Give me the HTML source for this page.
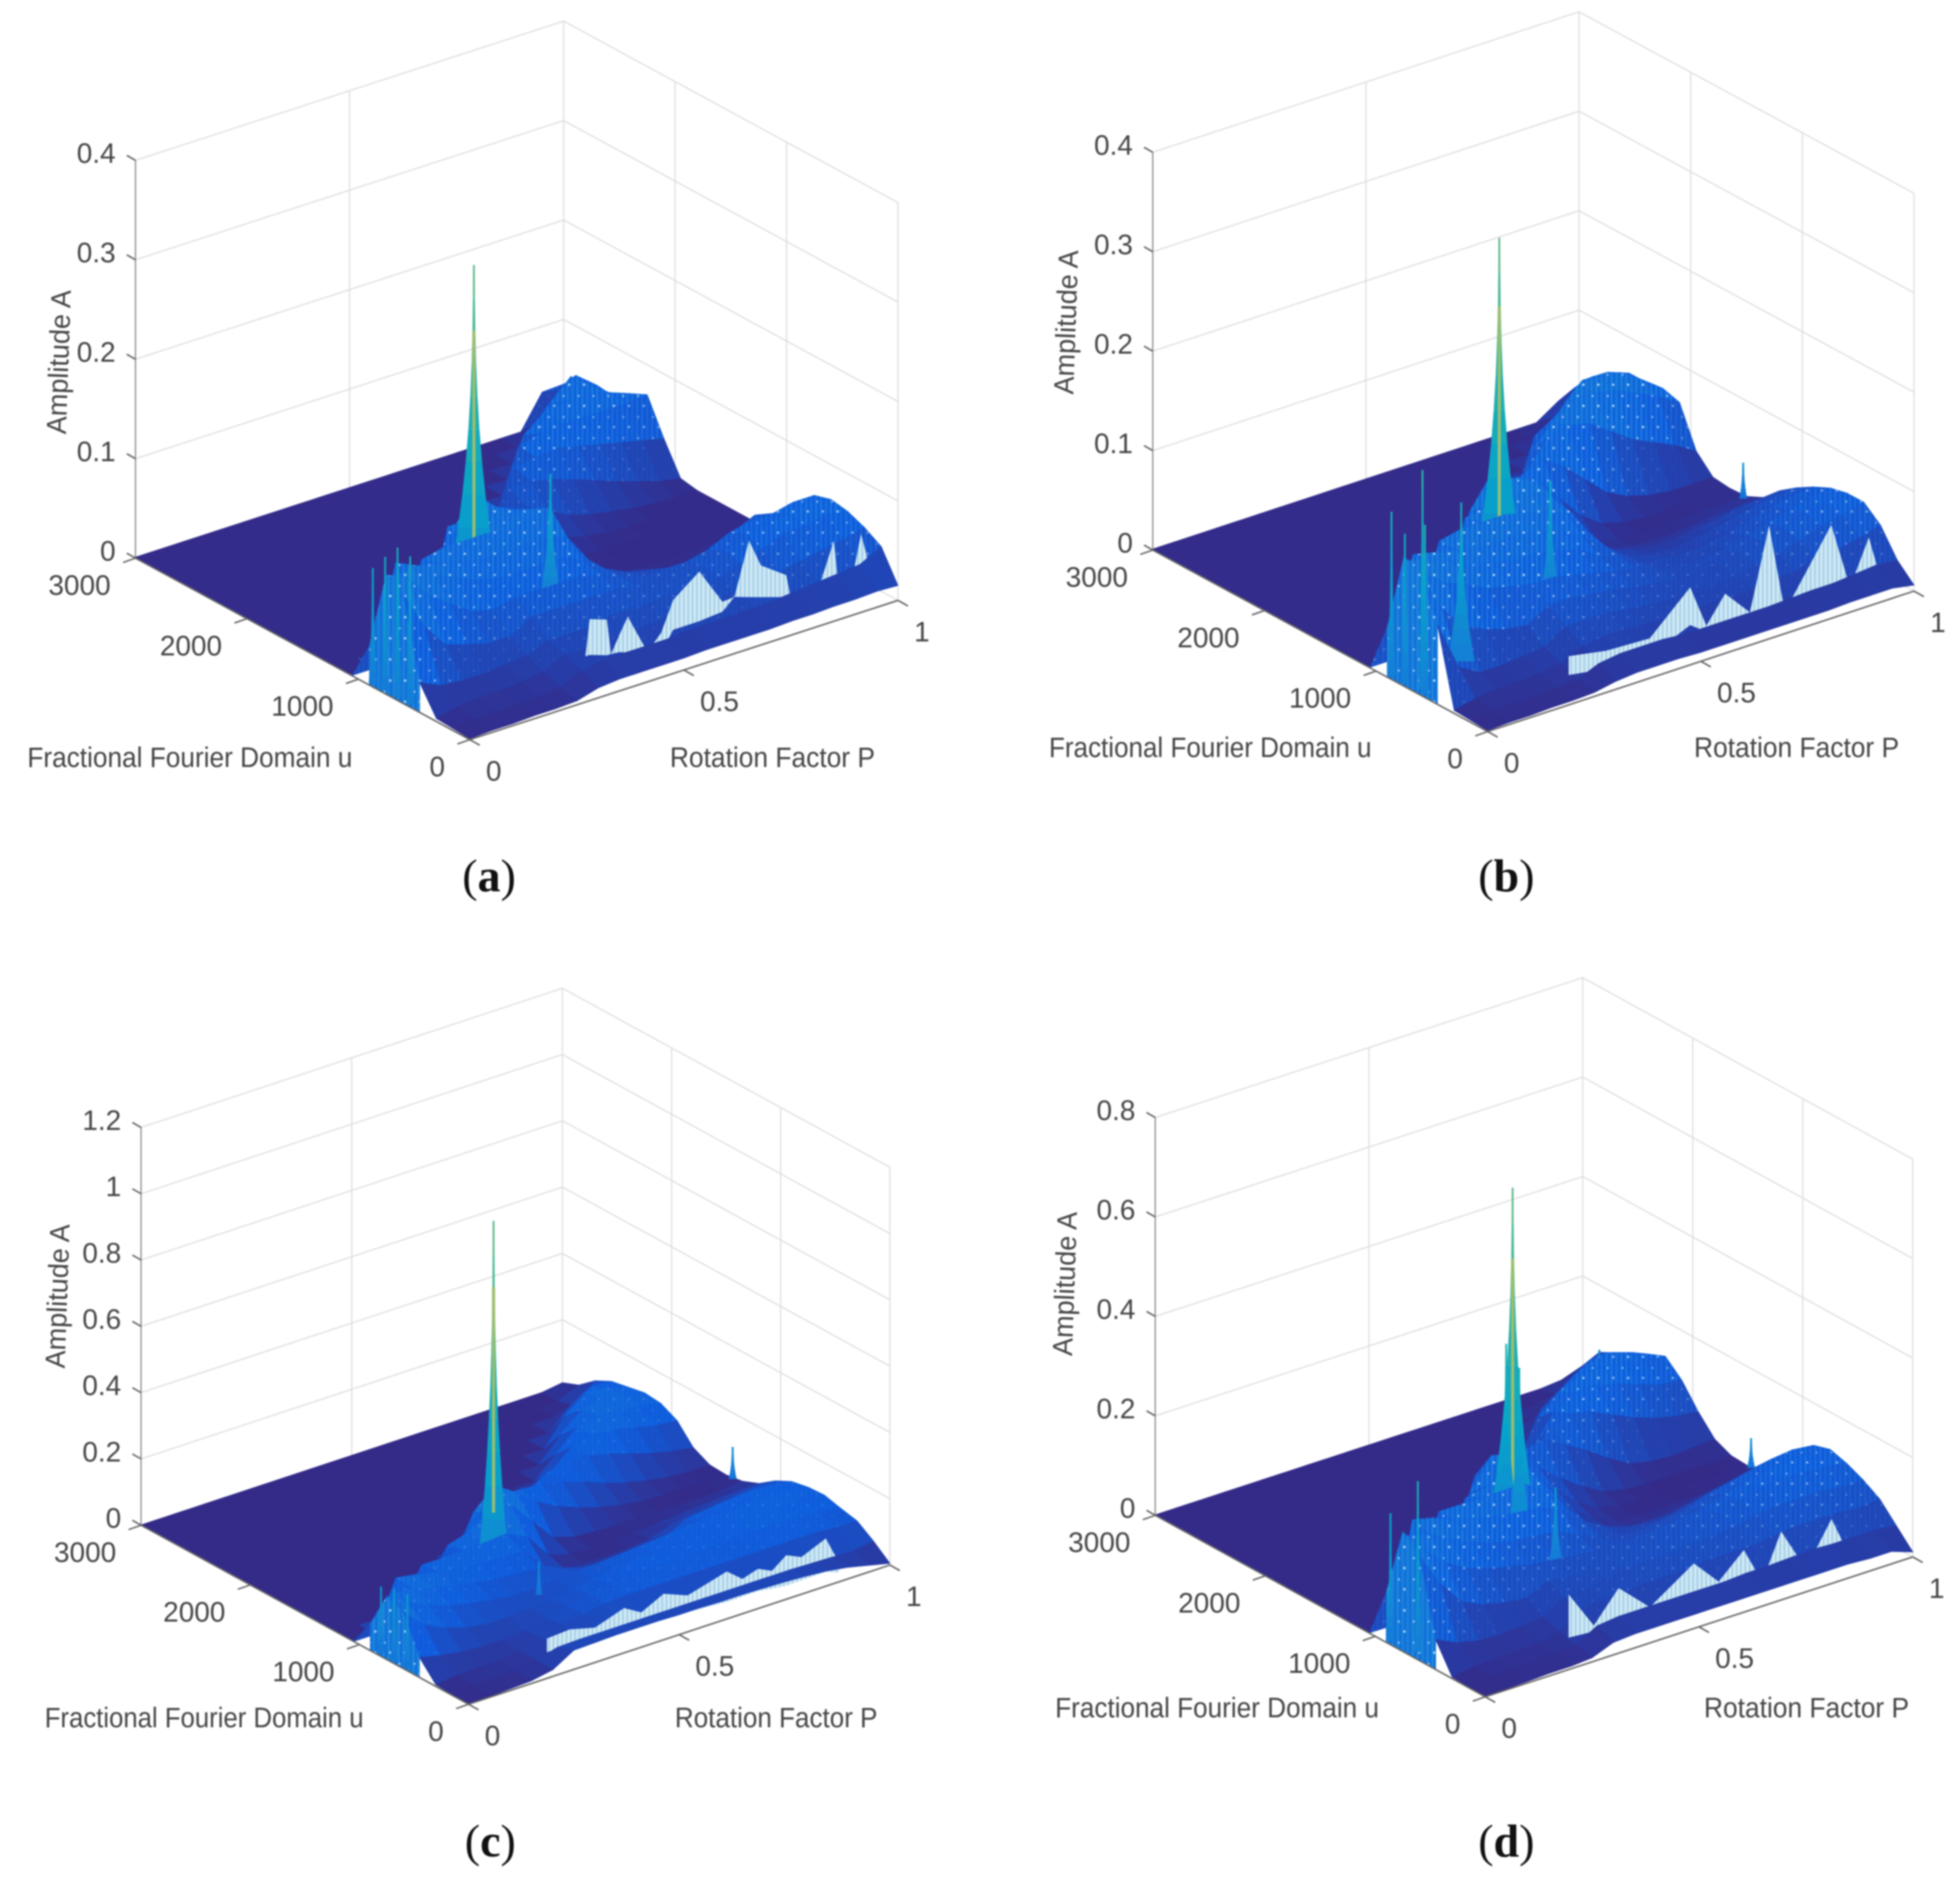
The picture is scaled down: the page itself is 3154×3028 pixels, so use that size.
<!DOCTYPE html>
<html lang="en">
<head>
<meta charset="utf-8">
<title>Fractional Fourier Domain Amplitude Surfaces</title>
<style>
html,body{margin:0;padding:0;background:#fff;width:3154px;height:3028px;overflow:hidden}
svg{display:block;filter:blur(1.3px)}
text{font-family:"Liberation Sans",sans-serif;fill:#454545;font-size:45px}
.cap{font-family:"Liberation Serif",serif;font-size:74px;fill:#111}
</style>
</head>
<body>
<svg id="chart" xmlns="http://www.w3.org/2000/svg" width="3154" height="3028" viewBox="0 0 3154 3028">
<defs>
<pattern id="pale-stripes" patternUnits="userSpaceOnUse" width="7" height="7">
<rect width="7" height="7" fill="#d3e9f3"/>
<rect width="3" height="7" fill="#a4d0ea"/>
</pattern>
<pattern id="comb-texture" patternUnits="userSpaceOnUse" width="24" height="34">
<rect x="0" width="2.5" height="34" fill="#3cbce6" fill-opacity=".35"/>
<rect x="8" width="2.5" height="34" fill="#3cbce6" fill-opacity=".28"/>
<rect x="16" width="2.5" height="34" fill="#3cbce6" fill-opacity=".35"/>
<circle cx="4" cy="7" r="2" fill="#d5efff" fill-opacity=".8"/>
<circle cx="19" cy="25" r="1.7" fill="#d5efff" fill-opacity=".7"/>
</pattern>
</defs>
<rect width="3154" height="3028" fill="#fff"/>
<g id="panel-a"></g>
<g id="panel-b"></g>
<g id="panel-c"></g>
<g id="panel-d"></g>
<text class="cap" x="787" y="1434" text-anchor="middle">(<tspan font-weight="bold">a</tspan>)</text>
<text class="cap" x="2424" y="1434" text-anchor="middle">(<tspan font-weight="bold">b</tspan>)</text>
<text class="cap" x="789" y="2987" text-anchor="middle">(<tspan font-weight="bold">c</tspan>)</text>
<text class="cap" x="2424" y="2987" text-anchor="middle">(<tspan font-weight="bold">d</tspan>)</text>
</svg>
<script>
// Axis categories
const pCols = [0,.05,.1,.15,.2,.25,.3,.35,.4,.45,.5,.55,.6,.65,.7,.75,.8,.85,.9,.95,1];
const uRows = [3000,2850,2700,2550,2400,2250,2100,1950,1800,1650,1500,1350,1200,1050,900,750,600,450,300,150,0];
const pTicks = [0,.5,1];
const uTicks = [0,1000,2000,3000];
const zTicksA = [0,.1,.2,.3,.4];
const zTicksB = [0,.1,.2,.3,.4];
const zTicksC = [0,.2,.4,.6,.8,1,1.2];
const zTicksD = [0,.2,.4,.6,.8];

// Surface amplitudes in thousandths, one row per uRows entry, one column per pCols entry
const heightsA = [
[1,1,1,1,1,1,1,1,1,1,1,1,1,1,1,1,1,1,1,34,35],
[1,1,1,1,1,1,1,1,1,1,1,1,1,1,1,1,1,1,20,45,50],
[1,1,1,1,1,1,1,1,1,1,1,1,1,1,1,1,1,32,53,69,52],
[1,1,1,1,1,1,1,1,1,1,1,1,1,1,1,1,42,64,84,68,50],
[1,1,1,1,1,1,1,1,1,1,1,1,1,1,1,55,72,75,75,70,62],
[1,1,1,1,1,1,1,1,1,1,1,1,1,1,60,66,68,68,68,68,70],
[1,1,1,1,1,1,1,1,1,1,1,1,1,55,58,60,55,50,45,40,35],
[1,1,1,1,1,1,1,1,1,1,1,1,50,50,45,38,30,22,15,8,4],
[1,1,1,1,1,1,1,1,1,1,35,45,40,30,18,12,8,4,2,1,1],
[1,1,1,1,1,1,1,1,60,60,55,40,25,12,6,3,1,1,1,1,1],
[1,1,1,1,1,1,1,70,100,80,70,40,12,4,1,1,1,1,1,1,1],
[1,1,1,1,1,1,90,90,90,80,80,50,5,1,1,1,1,1,1,1,1],
[1,1,1,1,80,85,85,85,80,85,90,46,10,2,1,1,1,1,1,1,1],
[1,1,100,90,85,80,75,75,75,75,70,40,20,10,5,2,2,5,10,10,6],
[40,100,105,90,80,70,65,65,65,65,55,40,30,25,20,20,25,35,45,40,30],
[120,110,85,70,55,50,55,55,55,55,50,40,35,35,35,40,50,55,55,60,60],
[110,70,45,38,32,32,45,45,45,45,45,40,38,38,40,48,58,62,65,70,65],
[30,20,18,18,20,22,30,30,30,35,35,35,36,36,38,45,52,60,62,65,62],
[3,8,10,10,12,15,25,25,25,28,28,30,30,30,32,35,38,42,46,50,55],
[2,4,5,5,6,8,18,22,22,22,22,24,24,24,25,26,28,30,32,34,45],
[1,2,2,3,3,4,10,12,12,12,12,13,13,13,13,14,14,15,15,16,15]
];
const heightsB = [
[1,1,1,1,1,1,1,1,1,1,1,1,1,1,1,1,1,1,1,15,25],
[1,1,1,1,1,1,1,1,1,1,1,1,1,1,1,1,1,1,15,38,43],
[1,1,1,1,1,1,1,1,1,1,1,1,1,1,1,1,1,23,44,58,55],
[1,1,1,1,1,1,1,1,1,1,1,1,1,1,1,1,36,51,72,72,64],
[1,1,1,1,1,1,1,1,1,1,1,1,1,1,1,49,64,87,87,80,64],
[1,1,1,1,1,1,1,1,1,1,1,1,1,1,62,74,98,100,97,83,67],
[1,1,1,1,1,1,1,1,1,1,1,1,1,60,84,100,100,95,85,75,62],
[1,1,1,1,1,1,1,1,1,1,1,1,55,85,90,85,70,55,45,35,22],
[1,1,1,1,1,1,1,1,1,1,50,70,80,65,45,25,14,8,5,5,5],
[1,1,1,1,1,1,1,1,70,80,85,75,50,25,10,4,2,2,3,3,3],
[1,1,1,1,1,1,1,80,110,100,90,65,25,8,3,2,2,3,4,4,4],
[1,1,1,1,1,1,90,95,100,95,85,60,22,10,6,5,6,8,10,12,12],
[1,1,1,1,90,95,95,95,90,85,75,50,25,18,14,14,18,20,24,26,28],
[1,1,100,95,90,85,85,85,80,75,60,45,28,22,20,22,26,30,35,38,40],
[50,110,105,95,85,80,75,75,70,65,50,42,30,28,26,28,32,38,44,48,50],
[130,105,90,80,70,65,60,60,55,50,45,40,32,30,30,32,38,44,50,54,58],
[120,80,55,45,38,35,48,48,45,42,38,35,32,30,32,36,42,48,56,58,62],
[80,30,18,18,20,22,36,36,35,32,30,28,30,28,30,34,38,44,52,56,62],
[3,8,10,10,12,15,25,28,28,26,25,24,26,24,26,28,30,34,38,42,48],
[2,4,5,5,6,8,17,20,20,20,18,18,18,18,18,19,20,20,22,24,22],
[1,2,2,3,3,4,8,10,10,10,9,9,9,9,9,9,9,10,10,10,6]
];
const heightsC = [
[1,1,1,1,1,1,1,1,1,1,1,1,1,1,1,1,1,1,1,1,10],
[1,1,1,1,1,1,1,1,1,1,1,1,1,1,1,1,1,1,1,1,30],
[1,1,1,1,1,1,1,1,1,1,1,1,1,1,1,1,1,1,1,15,70],
[1,1,1,1,1,1,1,1,1,1,1,1,1,1,1,1,1,1,60,100,95],
[1,1,1,1,1,1,1,1,1,1,1,1,1,1,1,1,1,80,130,125,105],
[1,1,1,1,1,1,1,1,1,1,1,1,1,1,1,1,70,125,140,130,115],
[1,1,1,1,1,1,1,1,1,1,1,1,1,1,1,60,120,135,130,120,110],
[1,1,1,1,1,1,1,1,1,1,1,1,1,1,55,110,125,120,105,90,85],
[1,1,1,1,1,1,1,1,1,1,1,1,60,100,115,110,95,75,55,40,30],
[1,1,1,1,1,1,1,1,1,1,120,120,115,100,80,55,35,20,10,5,5],
[1,1,1,1,1,1,1,1,140,200,160,110,75,50,30,15,6,3,2,2,2],
[1,1,1,1,1,1,110,130,170,170,100,30,10,5,3,2,1,1,1,2,10],
[1,1,1,1,120,120,120,125,130,100,25,5,2,1,6,10,15,20,24,28,30],
[1,1,150,140,125,115,110,105,105,40,10,5,5,8,15,35,45,50,58,65,65],
[80,150,145,125,110,100,90,85,80,60,40,35,35,40,50,80,90,95,100,100,90],
[190,150,120,100,85,75,65,65,70,75,80,85,90,95,100,105,105,110,110,110,100],
[170,110,80,60,50,50,55,60,70,80,90,95,95,100,100,105,110,110,110,110,103],
[60,45,35,30,30,35,50,65,85,95,100,100,100,100,100,105,105,105,105,100,90],
[5,12,15,15,20,40,60,70,80,85,85,85,85,85,85,85,85,85,85,80,79],
[2,8,10,12,22,40,42,42,42,42,42,42,42,42,42,42,42,40,38,35,45],
[1,2,5,8,20,58,60,62,62,62,60,60,58,58,56,54,50,45,35,20,5]
];
const heightsD = [
[1,1,1,1,1,1,1,1,1,1,1,1,1,1,1,1,1,1,1,5,20],
[1,1,1,1,1,1,1,1,1,1,1,1,1,1,1,1,1,1,8,42,65],
[1,1,1,1,1,1,1,1,1,1,1,1,1,1,1,1,1,32,61,86,82],
[1,1,1,1,1,1,1,1,1,1,1,1,1,1,1,1,55,86,112,115,101],
[1,1,1,1,1,1,1,1,1,1,1,1,1,1,1,78,105,135,146,132,116],
[1,1,1,1,1,1,1,1,1,1,1,1,1,1,90,125,150,150,145,135,130],
[1,1,1,1,1,1,1,1,1,1,1,1,1,60,120,145,145,135,120,105,100],
[1,1,1,1,1,1,1,1,1,1,1,1,60,120,135,125,105,85,70,60,55],
[1,1,1,1,1,1,1,1,1,1,90,120,130,105,80,50,25,15,12,15,18],
[1,1,1,1,1,1,1,1,130,150,140,105,70,40,15,5,2,2,2,2,3],
[1,1,1,1,1,1,1,130,190,180,120,80,40,15,4,2,1,1,1,1,1],
[1,1,1,1,1,1,150,160,190,170,110,60,25,8,3,2,2,2,3,4,5],
[1,1,1,1,170,170,170,170,170,140,90,45,25,15,15,18,25,35,40,45,50],
[1,1,200,190,170,160,150,145,140,120,85,60,45,40,40,50,60,70,80,85,85],
[100,200,190,165,145,130,120,115,110,90,70,60,60,65,70,85,95,105,115,120,115],
[240,190,150,125,110,100,90,85,80,75,75,75,80,85,90,105,115,125,130,130,125],
[210,140,90,70,60,55,75,70,70,75,80,85,90,95,100,110,120,125,125,120,115],
[60,40,30,28,30,35,60,65,70,75,80,80,85,85,90,100,105,105,105,100,100],
[3,10,12,12,15,25,55,60,60,65,65,65,70,70,70,75,80,80,80,75,80],
[2,7,10,10,12,15,40,45,45,45,45,45,45,48,48,50,52,50,50,50,45],
[1,2,3,5,5,8,25,28,28,28,28,28,28,28,28,28,28,28,25,25,10]
];

// Narrow peaks: rotation factor, domain position, amplitude
const spikePA = [.40,.485,.01,.01,.01,.01];
const spikeUA = [1500,1140,909,798,687,573];
const spikeAA = [.33,.13,.116,.134,.15,.148];
const spikePB = [.42,.445,.02,.01,.01,.01,.15,1];
const spikeUB = [1500,1140,660,900,780,600,810,1530];
const spikeAB = [.346,.12,.22,.165,.15,.17,.16,.036];
const spikePC = [.448,.40,1,.01,.01,.01];
const spikeUC = [1500,900,1440,840,720,600];
const spikeAC = [1.0,.1,.097,.2,.215,.22];
const spikePD = [.45,.435,.45,.02,.01,.45,1,1];
const spikeUD = [1500,1500,1440,690,900,1110,2850,1470];
const spikeAD = [.715,.405,.36,.344,.257,.16,.07,.06];

// Light see-through mesh band along the front: rotation factor, lower and upper amplitude (thousandths)
const paleParamA = [.27,.28,.32,.33,.35,.369,.415,.447,.475,.536,.59,.618,.652,.68,.739,.749,.813,.85,.859,.887,.914,.933];
const paleHighA = [46,82,76,40,57,72,30,45,74,94,56,57,109,80,62,39,36,81,43,25,79,44];
const paleLowA = [46,46,40,40,39,36,30,25,44,44,46,57,52,48,40,39,36,44,43,25,41,44];
const paleParamB = [.19,.278,.38,.475,.513,.557,.615,.66,.697,.806,.85,.894,.923];
const paleHighB = [49,42,40,78,34,60,33,114,22,94,25,69,21];
const paleLowB = [30,24,22,40,28,32,27,33,22,25,25,31,21];
const paleParamC = [.186,.24,.30,.369,.41,.463,.52,.613,.65,.687,.72,.754,.79,.848,.88];
const paleHighC = [120,125,105,135,105,139,110,143,105,120,100,133,112,144,56];
const paleLowC = [79,75,70,66,68,71,60,51,52,53,46,41,42,43,28];
const paleParamD = [.195,.254,.312,.385,.488,.546,.605,.648,.692,.75,.81,.853,.9];
const paleHighD = [151,72,131,72,131,78,125,49,138,46,130,42,54];
const paleLowD = [64,60,56,41,38,46,42,36,55,39,60,35,34];

const SVG_NS = 'http://www.w3.org/2000/svg';
const parulaStops = [[53,42,135],[15,92,221],[20,129,214],[6,164,202],[46,183,164],[135,191,119],[209,187,89],[254,200,50],[249,251,14]];

function parula(t) {
  const x = Math.max(0, Math.min(1, t)) * (parulaStops.length - 1);
  const i = Math.min(parulaStops.length - 2, Math.floor(x));
  const f = x - i;
  const c = parulaStops[i].map((v, k) => Math.round(v + (parulaStops[i + 1][k] - v) * f));
  return 'rgb(' + c.join(',') + ')';
}

function make(tag, attrs, parent) {
  const e = document.createElementNS(SVG_NS, tag);
  for (const k in attrs) e.setAttribute(k, attrs[k]);
  parent.appendChild(e);
  return e;
}

const panels = [
  {id:'panel-a', ox:756, oy:1190, px:689, py:-224, ux:-538, uy:-292, zPx:640, zMax:.4, zTicks:zTicksA, heights:heightsA, gain:.5, peakW:40, comb:.9,
   sP:spikePA, sU:spikeUA, sA:spikeAA, pa:paleParamA, hi:paleHighA, lo:paleLowA,
   uX:[44,567,1234], pX:[1078,1408,1234], ampl:[93,583]},
  {id:'panel-b', ox:2394, oy:1177, px:686, py:-226, ux:-539, uy:-292, zPx:640, zMax:.4, zTicks:zTicksB, heights:heightsB, gain:.5, peakW:40, comb:1,
   sP:spikePB, sU:spikeUB, sA:spikeAB, pa:paleParamB, hi:paleHighB, lo:paleLowB,
   uX:[1688,2207,1218], pX:[2726,3056,1218], ampl:[1714,519]},
  {id:'panel-c', ox:754, oy:2742, px:678, py:-224, ux:-527, uy:-288, zPx:640, zMax:1.2, zTicks:zTicksC, heights:heightsC, gain:.8, peakW:20, comb:.45,
   sP:spikePC, sU:spikeUC, sA:spikeAC, pa:paleParamC, hi:paleHighC, lo:paleLowC,
   uX:[72,585,2779], pX:[1086,1412,2779], ampl:[91,2086]},
  {id:'panel-d', ox:2390, oy:2730, px:688, py:-225, ux:-531, uy:-292, zPx:640, zMax:.8, zTicks:zTicksD, heights:heightsD, gain:.5, peakW:40, comb:.9,
   sP:spikePD, sU:spikeUD, sA:spikeAD, pa:paleParamD, hi:paleHighD, lo:paleLowD,
   uX:[1698,2219,2763], pX:[2742,3072,2763], ampl:[1712,2066]}
];

function drawPanel(cfg) {
  const g = document.getElementById(cfg.id);
  const project = (p, u, a) => [
    cfg.ox + p * cfg.px + (u / 3000) * cfg.ux,
    cfg.oy + p * cfg.py + (u / 3000) * cfg.uy - (a / cfg.zMax) * cfg.zPx
  ];
  const pts = list => list.map(q => q[0].toFixed(1) + ',' + q[1].toFixed(1)).join(' ');
  const aMax = Math.max.apply(null, cfg.sA);
  const shade = a => parula(cfg.gain * Math.pow(Math.max(0, a) / aMax, .8));

  // back walls
  cfg.zTicks.forEach(z => {
    const wall = make('polyline', {points: pts([project(0,3000,z), project(1,3000,z), project(1,0,z)]), fill:'none', stroke:'#dedede', 'stroke-width':2}, g);
    
    
  });
  pTicks.forEach(p => {
    const a = project(p,3000,0), b = project(p,3000,cfg.zMax);
    const v = make('line', {x1:a[0], y1:a[1], x2:b[0], y2:b[1], stroke: p === 0 ? '#8a8a8a' : '#dedede', 'stroke-width':2}, g);
    
    
  });
  uTicks.forEach(u => {
    const a = project(1,u,0), b = project(1,u,cfg.zMax);
    const v = make('line', {x1:a[0], y1:a[1], x2:b[0], y2:b[1], stroke:'#dedede', 'stroke-width':2}, g);
    
    
  });

  // surface, painted from the far corner to the near corner
  const surface = make('g', {}, g);
  
  
  const done = cfg.sP.map(() => false);

  function drawSpike(i) {
    const a = cfg.sA[i], rel = a / aMax;
    const edge = cfg.sP[i] < .05 || cfg.sP[i] > .95;
    const w0 = edge ? 5 : cfg.peakW * rel + 2;
    const levels = 10;
    for (let k = 0; k < levels; k++) {
      const f0 = k / levels, f1 = (k + 1) / levels;
      const c0 = project(cfg.sP[i], cfg.sU[i], a * f0), c1 = project(cfg.sP[i], cfg.sU[i], a * f1);
      const w1 = w0 * Math.pow(1 - f0, 2.5) + 1.5, w2 = w0 * Math.pow(1 - f1, 2.5) + 1.5;
      const seg = make('polygon', {
        points: pts([[c0[0]-w1,c0[1]],[c1[0]-w2,c1[1]],[c1[0]+w2,c1[1]],[c0[0]+w1,c0[1]]]),
        fill: parula(.2 + .1 * rel + .3 * f0 * Math.sqrt(rel))
      }, surface);
      
      
    }
    if (rel > .7) {
      const low = project(cfg.sP[i], cfg.sU[i], a * .12), high = project(cfg.sP[i], cfg.sU[i], a * .8);
      const core = make('line', {x1:low[0], y1:low[1], x2:high[0], y2:high[1], stroke:parula(.66), 'stroke-width':5}, surface);
      
      
    }
  }

  function drawPale() {
    const top = cfg.pa.map((p, i) => project(p, 0, cfg.hi[i] / 1000));
    const bottom = cfg.pa.map((p, i) => project(p, 0, cfg.lo[i] / 1000)).reverse();
    const band = make('polygon', {points: pts(top.concat(bottom)), fill:'url(#pale-stripes)'}, surface);
    
    
  }

  for (let j = 0; j < uRows.length - 1; j++) {
    cfg.sP.forEach((_, i) => {
      if (!done[i] && cfg.sU[i] - 300 >= uRows[j]) { drawSpike(i); done[i] = true; }
    });
    if (j === uRows.length - 2) drawPale();
    for (let i = pCols.length - 2; i >= 0; i--) {
      const h = cfg.heights;
      const a00 = h[j][i] / 1000, a01 = h[j][i+1] / 1000, a10 = h[j+1][i] / 1000, a11 = h[j+1][i+1] / 1000;
      const mean = (a00 + a01 + a10 + a11) / 4;
      const fill = shade(mean);
      const corners = pts([project(pCols[i],uRows[j],a00), project(pCols[i+1],uRows[j],a01), project(pCols[i+1],uRows[j+1],a11), project(pCols[i],uRows[j+1],a10)]);
      const cell = make('polygon', {points: corners, fill: fill, stroke: fill, 'stroke-width': 1}, surface);
      
      
      const texStrength = Math.min(1, (mean / aMax - .06) / .14);
      if (texStrength > 0 && uRows[j] > 150) {
        const tex = make('polygon', {points: corners, fill:'url(#comb-texture)', 'fill-opacity': (cfg.comb * texStrength).toFixed(2)}, surface);
        
        
      }
    }
    // near-edge wall below the surface where the rotation-factor-zero edge is raised
    const e0 = cfg.heights[j][0] / 1000, e1 = cfg.heights[j+1][0] / 1000;
    if (Math.min(e0, e1) / aMax > .05) {
      const sidePts = pts([project(0,uRows[j],e0), project(0,uRows[j+1],e1), project(0,uRows[j+1],0), project(0,uRows[j],0)]);
      const side = make('polygon', {points: sidePts, fill: parula(.2), stroke: parula(.2), 'stroke-width': 1}, surface);
      
      
      const sideTex = make('polygon', {points: sidePts, fill:'url(#comb-texture)'}, surface);
      
      
    }
  }
  cfg.sP.forEach((_, i) => { if (!done[i]) drawSpike(i); });

  // axes
  const axisP = make('polyline', {points: pts([project(0,0,0), project(1,0,0)]), fill:'none', stroke:'#666', 'stroke-width':2.5}, g);
  
  
  const axisU = make('polyline', {points: pts([project(0,3000,0), project(0,0,0)]), fill:'none', stroke:'#666', 'stroke-width':2.5}, g);
  
  

  pTicks.forEach(p => {
    const a = project(p,0,0);
    const t = make('line', {x1:a[0], y1:a[1], x2:a[0]+16, y2:a[1]+9, stroke:'#666', 'stroke-width':2.5}, g);
    
    
    const l = make('text', {x:a[0]+26, y:a[1]+66, 'text-anchor':'start'}, g);
    
    
    l.textContent = String(p);
  });
  uTicks.forEach(u => {
    const a = project(0,u,0);
    const t = make('line', {x1:a[0], y1:a[1], x2:a[0]-20, y2:a[1]+7, stroke:'#666', 'stroke-width':2.5}, g);
    
    
    const l = make('text', {x:a[0]-40, y:a[1]+59, 'text-anchor':'end'}, g);
    
    
    l.textContent = String(u);
  });
  cfg.zTicks.forEach(z => {
    const a = project(0,3000,z);
    const t = make('line', {x1:a[0], y1:a[1], x2:a[0]-14, y2:a[1]-8, stroke:'#666', 'stroke-width':2.5}, g);
    
    
    const l = make('text', {x:a[0]-32, y:a[1]+4, 'text-anchor':'end'}, g);
    
    
    l.textContent = String(z);
  });

  // axis titles
  const tu = make('text', {x:cfg.uX[0], y:cfg.uX[2], textLength:cfg.uX[1]-cfg.uX[0], lengthAdjust:'spacingAndGlyphs', 'font-size':43}, g);
  
  
  tu.textContent = 'Fractional Fourier Domain u';
  const tp = make('text', {x:cfg.pX[0], y:cfg.pX[2], textLength:cfg.pX[1]-cfg.pX[0], lengthAdjust:'spacingAndGlyphs', 'font-size':43}, g);
  
  
  tp.textContent = 'Rotation Factor P';
  const tz = make('text', {x:cfg.ampl[0]+17, y:cfg.ampl[1], 'text-anchor':'middle', textLength:232, lengthAdjust:'spacingAndGlyphs', transform:'rotate(-88 '+(cfg.ampl[0]+17)+' '+cfg.ampl[1]+')'}, g);
  
  
  tz.textContent = 'Amplitude A';
}

panels.forEach(drawPanel);
</script>
</body>
</html>
